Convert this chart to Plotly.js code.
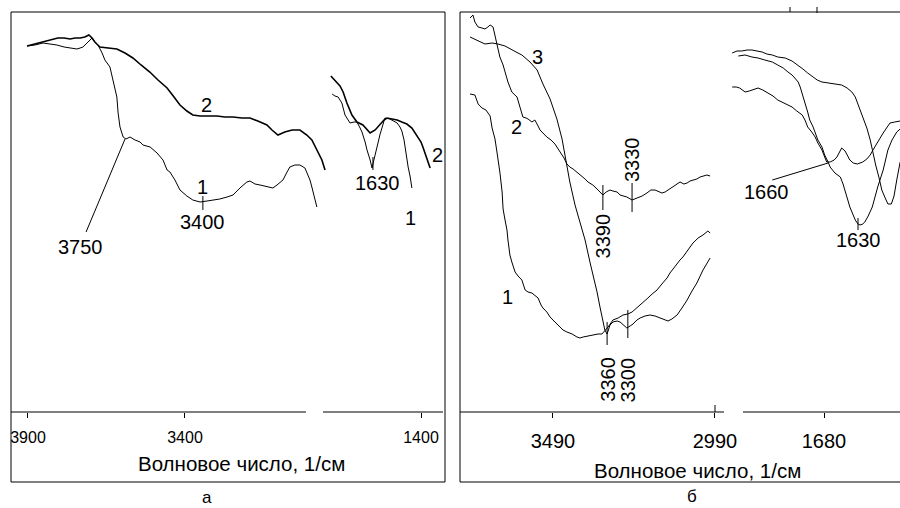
<!DOCTYPE html>
<html><head><meta charset="utf-8">
<script src="https://cdn.plot.ly/plotly-3.0.1.min.js"></script>
<style>html,body{margin:0;padding:0;background:#fff}#chart{width:900px;height:508px}</style>
</head><body><div id="chart"></div>
<script>
// ---------- panel "а" : wavenumber (1/см) and transmittance (arb. %) ----------
const a1_wn = [3903,3878,3852,3830,3808,3785,3766,3744,3734,3725,3712,3696,3687,3677,3664,3655,3639,3629,3622,3617,3613,3607,3597,3588,3575,3559,3543,3534,3511,3489,3470,3457,3448,3432,3416,3394,3375,3352,3330,3311,3289,3266,3247,3225,3203,3193,3177,3161,3139,3120,3107,3088,3075,3066,3050,3034,3018,3011,3002,2996,2986,2980];
const a1_T  = [91.5,91.75,92.25,92,91.75,91.25,91,90.75,91,91.25,92.25,93.5,92.5,91.75,89.75,88,86.25,83,80.5,78.75,74.75,71.25,68.75,68.25,68.75,68,67.5,66.75,66.25,64.75,63,60.5,60,58,55.5,54,53,52.5,52.75,53,53.25,53.75,54.25,56,57.5,57.75,57,56.75,56.25,56,56.75,58,60,61.25,61.75,61.75,61,59.75,58,56.25,53.25,51.25];
const a2_wn = [3903,3878,3852,3830,3805,3785,3766,3750,3734,3719,3706,3696,3687,3671,3645,3617,3591,3566,3540,3512,3486,3457,3435,3416,3394,3375,3352,3320,3298,3273,3247,3219,3193,3168,3139,3123,3104,3082,3059,3034,3012,2996,2980,2970,2964,2954];
const a2_T  = [91.5,92,92.5,93,93.5,93.5,93.25,93.5,93.5,93.75,94.25,93.5,92.5,91.25,91,90.75,89.75,88.5,86.75,85,83,81,78.75,76.75,75.25,74.25,74,74,74,73.75,73.75,73.5,73.5,72.75,71.75,70.5,69.25,70,70.5,70.5,69.25,68,65.5,63.75,63,60.5];
const a1r_wn = [1683,1674,1664,1652,1642,1626,1613,1604,1594,1588,1578,1572,1562,1556,1550,1543,1537,1531,1521,1515,1499,1486,1476,1467,1461,1454,1451,1445,1441,1435,1432,1429];
const a1r_T  = [79.5,79,78.75,77.25,74.25,72.25,72.5,72.5,71,70,67.5,65.5,63,61,63,65,67.25,69.25,71.75,73.5,73.25,72.75,72.25,71.25,70.25,68,66.25,63.75,61.25,59,57.75,56];
const a2r_wn = [1687,1674,1658,1648,1636,1620,1604,1585,1572,1562,1546,1531,1518,1508,1492,1476,1461,1445,1429,1410,1400,1394,1387,1381,1371];
const a2r_T  = [84,82.75,81.5,80,77.25,74.25,72.5,71.75,70.5,69.75,70.5,71.75,73,73.5,73.25,73,72.5,72,71,68.75,67.5,66.25,64.75,63,61];

// ---------- panel "б" ----------
const b1_wn = [3746,3731,3721,3709,3697,3684,3678,3669,3663,3657,3654,3647,3644,3638,3632,3629,3623,3617,3607,3598,3586,3576,3567,3555,3546,3536,3527,3521,3509,3499,3484,3468,3459,3447,3431,3416,3407,3397,3382,3367,3351,3339,3330,3320,3305,3289,3274,3259,3246,3231,3212,3197,3184,3169,3154,3138,3129,3113,3098,3089,3073,3058,3042,3027,3012,3005];
const b1_T  = [79.5,79.25,77,76,75.5,74,71,68.25,65,61.75,60,55,50.75,48,45.5,43,39.25,37.5,35,34,33,30.5,30,29.75,29.25,28.5,26.75,26,25,23.75,22.5,21.25,20.5,20,19.5,18.75,18.5,18.75,19,19.25,19.5,19.5,20.25,21.25,23,23.5,24.25,24.5,25,26,27.5,28.5,29.5,30.5,32,33.5,34.75,36.5,38,38.75,40.5,42.25,43.5,44.25,45.25,44.75];
const b2_wn = [3746,3737,3731,3721,3709,3700,3691,3684,3675,3669,3660,3654,3644,3635,3629,3617,3601,3592,3583,3573,3567,3555,3546,3536,3530,3518,3509,3496,3484,3468,3456,3447,3438,3428,3416,3407,3391,3382,3367,3354,3345,3336,3326,3314,3305,3292,3283,3271,3262,3246,3237,3228,3215,3200,3188,3175,3163,3154,3144,3135,3123,3113,3104,3098,3086,3076,3067,3058,3046,3036,3024,3015,3005];
const b2_T  = [98.5,99.25,97.5,96.25,96,95.75,96.25,96.75,96.25,94.25,90.75,88.75,86.75,84.25,82.5,80,78.75,76.25,73.75,73.5,73.25,72.5,73,71.5,70.5,69.5,68.75,68,67,65,63.5,62,61.25,60.75,60,59.25,58.25,57.5,56.75,55.75,55,54.25,55,55.5,55.25,55,54.25,54,53.75,53,53.25,53.5,54,54.75,55.5,55.5,55,54.75,55,55.5,56,56.75,57.25,57.5,57,57.25,57.75,58,58.25,58.75,59,59.25,59];
const b3_wn = [3746,3725,3700,3678,3660,3638,3623,3604,3586,3561,3539,3521,3499,3478,3462,3450,3438,3422,3407,3391,3376,3363,3354,3345,3339,3330,3323,3314,3305,3292,3283,3271,3262,3252,3243,3231,3221,3206,3191,3175,3160,3147,3135,3123,3107,3092,3076,3061,3046,3027,3015,3005];
const b3_T  = [93.75,93,92,92.25,92,91.5,90.75,90,89.25,87.5,85.5,82,78.25,73.25,68.25,62.5,57.5,51.75,47.5,43,37.5,33.5,30,26.25,23.75,20.5,19.5,21.75,22.5,22.75,22.5,21.5,21,21.5,22,23,23.5,24,24.25,24,23.5,23,22.75,23.25,24.25,26,28,30.25,32.25,35.5,37.25,38.5];
const bP_wn = [1815,1808,1801,1793,1786,1779,1771,1764,1756,1748,1737,1727,1718,1711,1704,1696,1690,1683,1674,1664,1654,1646,1639,1634,1630,1626,1621,1617,1612,1608,1604,1599,1595,1590,1586,1581,1577,1573,1568];
const bP_T  = [89.75,90.25,90.25,90.5,90.5,90.25,90,89.5,89.25,88.75,88.5,87.75,86.75,85.75,84.75,83.75,83,82.5,82.25,82,81.75,81,80,78.75,77,75,73,71,68,64.75,61.75,58.5,55.5,53.5,52,52,54,58,62.5];
const bQ_wn = [1806,1796,1786,1777,1767,1756,1748,1740,1733,1727,1723,1718,1715,1711,1708,1704,1701,1696,1693,1689,1683,1679,1674,1671,1664,1656,1652,1649,1645,1642,1637,1634,1630,1627,1623,1620,1615,1609,1605,1601,1593,1586,1580,1573,1568];
const bQ_T  = [89,89.25,88.75,88.5,88,87.5,86.75,86,85,84.25,83.5,82.5,81.25,79.25,77.25,75,73,71.25,69.75,68,66.25,64.25,62.5,61.25,59.75,58.75,57,55.5,53,51.25,49.25,48,47,46.75,47,47.5,49,51.25,53.75,56.25,60.5,65.5,68,70,70.75];
const bS_wn = [1815,1809,1804,1796,1790,1786,1781,1777,1770,1762,1755,1748,1737,1727,1720,1712,1708,1704,1698,1693,1689,1683,1679,1676,1671,1665,1661,1656,1654,1649,1646,1642,1637,1631,1627,1623,1617,1612,1608,1602,1598,1593,1587,1583,1576,1568];
const bS_T  = [81.25,81.25,81,80,80.25,80.5,80.75,81,80.5,79.75,79,78,77,76.25,75.25,74.25,73,71.25,70,68.75,67.25,65.5,63.75,62.5,62.5,63,63.75,65.25,66,65.25,64.25,63,62.25,62,62.25,62.5,63.25,64.25,65.5,67.25,68.5,69.75,71.25,72.25,72.5,72.75];

// ---------- tick labels ----------
const a_ticks_left  = [3900, 3400];
const a_ticks_right = [1400];
const b_ticks_left  = [3490, 2990];
const b_ticks_right = [1680];
const axisTitle = 'Волновое число, 1/см';

const FONT = 'Arial, "Liberation Sans", sans-serif';
function tr(x, y, xa, ya, w) {
  return {x: x, y: y, xaxis: xa, yaxis: ya, type: 'scatter', mode: 'lines',
          line: {color: '#000', width: w}, hoverinfo: 'skip', showlegend: false};
}
const data = [
  tr(a1_wn, a1_T, 'x', 'y', 1), tr(a2_wn, a2_T, 'x', 'y', 1.6),
  tr(a1r_wn, a1r_T, 'x2', 'y', 1), tr(a2r_wn, a2r_T, 'x2', 'y', 1.6),
  tr(b1_wn, b1_T, 'x3', 'y2', 1), tr(b2_wn, b2_T, 'x3', 'y2', 1), tr(b3_wn, b3_T, 'x3', 'y2', 1),
  tr(bP_wn, bP_T, 'x4', 'y2', 1), tr(bQ_wn, bQ_T, 'x4', 'y2', 1), tr(bS_wn, bS_T, 'x4', 'y2', 1)
];

const W = 900, H = 508;
const px = v => v / W, py = v => 1 - v / H;
const Y0 = py(412), Y1 = py(12);

function xa(domain, range, ticks, fs, standoff, anchor) {
  return {domain: domain, range: range, tickmode: 'array', tickvals: ticks, ticktext: ticks.map(String),
          ticks: 'outside', ticklen: 5, tickwidth: 1, tickcolor: '#000', showline: false, showgrid: false,
          zeroline: false, tickfont: {family: FONT, size: fs, color: '#000'}, ticklabelstandoff: standoff,
          anchor: anchor, fixedrange: true};
}

const blk = {color: '#000', width: 1};
const pl = (x0, y0, x1, y1) => ({type: 'line', xref: 'paper', yref: 'paper', x0: px(x0), y0: py(y0), x1: px(x1), y1: py(y1), line: blk});
const dl = (xr, yr, x0, y0, x1, y1) => ({type: 'line', xref: xr, yref: yr, x0: x0, y0: y0, x1: x1, y1: y1, line: blk});

const shapes = [
  {type: 'rect', xref: 'paper', yref: 'paper', x0: px(11), x1: px(445), y0: py(482), y1: py(12), line: blk},
  {type: 'rect', xref: 'paper', yref: 'paper', x0: px(460), x1: px(910), y0: py(482), y1: py(12), line: blk},
  pl(11, 412, 306, 412), pl(323, 412, 443, 412),
  pl(460, 412, 724, 412), pl(743, 412, 905, 412),
  pl(715, 405, 715, 412),
  pl(790, 7, 790, 12), pl(817, 7, 817, 13),
  // peak markers / leaders
  dl('x', 'y', 3591, 68.25, 3715, 45),
  dl('x', 'y', 3343, 54, 3343, 50.5),
  dl('x2', 'y', 1553, 63.75, 1553, 60.5),
  dl('x3', 'y2', 3336, 56.75, 3336, 50.5),
  dl('x3', 'y2', 3246, 57.25, 3246, 50),
  dl('x3', 'y2', 3323, 22.5, 3323, 16.75),
  dl('x3', 'y2', 3259, 25.5, 3259, 18.5),
  dl('x4', 'y2', 1756, 58, 1674, 62.25),
  dl('x4', 'y2', 1630, 48.5, 1630, 45.5)
];

function lab(text, xr, yr, x, y, fs, ang) {
  return {text: text, xref: xr, yref: yr, x: x, y: y, showarrow: false, textangle: ang || 0,
          xanchor: 'center', yanchor: 'middle', font: {family: FONT, size: fs, color: '#000'}};
}
const annotations = [
  lab('2', 'x', 'y', 3330, 76.75, 20), lab('1', 'x', 'y', 3343, 56.25, 20),
  lab('3400', 'x', 'y', 3343, 47.5, 20), lab('3750', 'x', 'y', 3734, 41.25, 20),
  lab('2', 'x2', 'y', 1346, 64.25, 20), lab('1630', 'x2', 'y', 1537, 57.25, 20), lab('1', 'x2', 'y', 1435, 48.5, 20),
  lab('3', 'x3', 'y2', 3539, 88.75, 20), lab('2', 'x3', 'y2', 3604, 71.25, 20), lab('1', 'x3', 'y2', 3629, 28.75, 20),
  lab('3390', 'x3', 'y2', 3336, 44.1, 20, -90), lab('3330', 'x3', 'y2', 3246, 63, 20, -90),
  lab('3360', 'x3', 'y2', 3323, 8.1, 20, -90), lab('3300', 'x3', 'y2', 3259, 8.1, 20, -90),
  lab('1660', 'x4', 'y2', 1764, 55, 20), lab('1630', 'x4', 'y2', 1630, 43, 20),
  lab(axisTitle, 'paper', 'paper', px(241), py(463), 20.5),
  lab(axisTitle, 'paper', 'paper', px(697), py(470), 20.5),
  lab('а', 'paper', 'paper', px(207), py(497), 17),
  lab('б', 'paper', 'paper', px(692), py(496), 17)
];

const layout = {
  width: W, height: H, autosize: false, margin: {l: 0, r: 0, t: 0, b: 0, pad: 0},
  paper_bgcolor: '#fff', plot_bgcolor: 'rgba(0,0,0,0)', showlegend: false,
  xaxis:  xa([px(11), px(330)], [3954.1, 2938.2], a_ticks_left, 16, 6, 'y'),
  xaxis2: xa([px(323), px(445)], [1712.1, 1323.6], a_ticks_right, 16, 6, 'y'),
  xaxis3: xa([px(460), px(724)], [3777.0, 2962.2], b_ticks_left, 20, 6, 'y2'),
  xaxis4: xa([px(730), 1], [1818.24, 1568.24], b_ticks_right, 20, 6, 'y2'),
  yaxis:  {domain: [Y0, Y1], range: [0, 100], visible: false, anchor: 'x', fixedrange: true},
  yaxis2: {domain: [Y0, Y1], range: [0, 100], visible: false, anchor: 'x3', fixedrange: true},
  shapes: shapes, annotations: annotations
};
Plotly.newPlot('chart', data, layout, {staticPlot: true, displayModeBar: false});
</script>
</body></html>
